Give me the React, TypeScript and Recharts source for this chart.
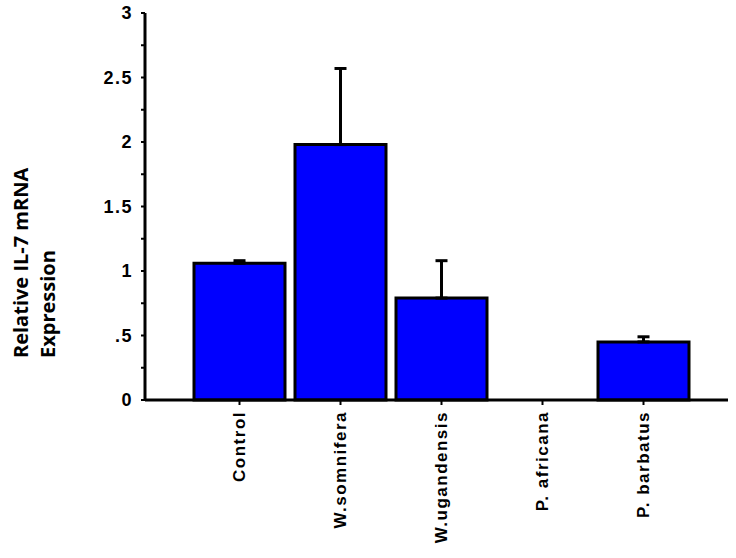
import React from "react";
import { BarChart, Bar, XAxis, YAxis, ErrorBar } from "recharts";

const categories = ["Control", "W.somnifera", "W.ugandensis", "P. africana", "P. barbatus"];
const means = [1.06, 1.98, 0.79, 0, 0.45];
const errors = [0.02, 0.59, 0.29, 0, 0.04];
const yTicks = [0, 0.25, 0.5, 0.75, 1, 1.25, 1.5, 1.75, 2, 2.25, 2.5, 2.75, 3];
const yTickLabels: Record<string, string> = { "0": "0", "0.5": ".5", "1": "1", "1.5": "1.5", "2": "2", "2.5": "2.5", "3": "3" };

const data = categories.map((c, i) => ({
  name: c,
  value: means[i],
  err: [0, errors[i]],
}));

const XTick = (props: any) => {
  const { x, y, payload } = props;
  return (
    <text
      x={x}
      y={y + 4}
      transform={`rotate(-90, ${x}, ${y + 4})`}
      textAnchor="end"
      dominantBaseline="central"
      fontFamily="Liberation Sans, Arial, sans-serif"
      fontWeight="bold"
      fontSize={17}
      letterSpacing={1.5}
      fill="#000"
    >
      {payload.value}
    </text>
  );
};

const YTick = (props: any) => {
  const { x, y, payload } = props;
  const label = yTickLabels[String(payload.value)] ?? "";
  if (!label) return null;
  return (
    <text
      x={x}
      y={y}
      textAnchor="end"
      dominantBaseline="central"
      fontFamily="Liberation Sans, Arial, sans-serif"
      fontWeight="bold"
      fontSize={18}
      letterSpacing={1.5}
      fill="#000"
    >
      {label}
    </text>
  );
};

const YLabel = () => (
  <g>
    <text
      x={28}
      y={358}
      transform="rotate(-90, 28, 358)"
      textAnchor="start"
      fontFamily="Open Sans, sans-serif"
      fontWeight="bold"
      fontSize={20}
      fill="#000"
    >
      Relative IL-7 mRNA
    </text>
    <text
      x={55}
      y={358}
      transform="rotate(-90, 55, 358)"
      textAnchor="start"
      fontFamily="Open Sans, sans-serif"
      fontWeight="bold"
      fontSize={20}
      fill="#000"
    >
      Expression
    </text>
  </g>
);

export default function App() {
  return (
    <div style={{ position: "absolute", left: 0, top: 0, width: 736, height: 558, background: "#fff" }}>
      <BarChart
        width={736}
        height={558}
        data={data}
        margin={{ top: 13, right: 8, bottom: 0, left: 0 }}
        barSize={91}
      >
        <XAxis
          dataKey="name"
          height={158}
          padding={{ left: 44, right: 34 }}
          axisLine={{ stroke: "#000", strokeWidth: 3 }}
          tickLine={{ stroke: "#000", strokeWidth: 2 }}
          tickSize={5}
          tick={<XTick />}
          interval={0}
        />
        <YAxis
          width={145}
          domain={[0, 3]}
          ticks={yTicks}
          interval={0}
          axisLine={{ stroke: "#000", strokeWidth: 3 }}
          tickLine={{ stroke: "#000", strokeWidth: 2 }}
          tickSize={4}
          tickMargin={8}
          tick={<YTick />}
          label={{ content: () => <YLabel /> }}
        />
        <Bar dataKey="value" fill="#0000FF" stroke="#000" strokeWidth={3} isAnimationActive={false}>
          <ErrorBar dataKey="err" width={6} stroke="#000" strokeWidth={3} direction="y" />
        </Bar>
      </BarChart>
    </div>
  );
}
